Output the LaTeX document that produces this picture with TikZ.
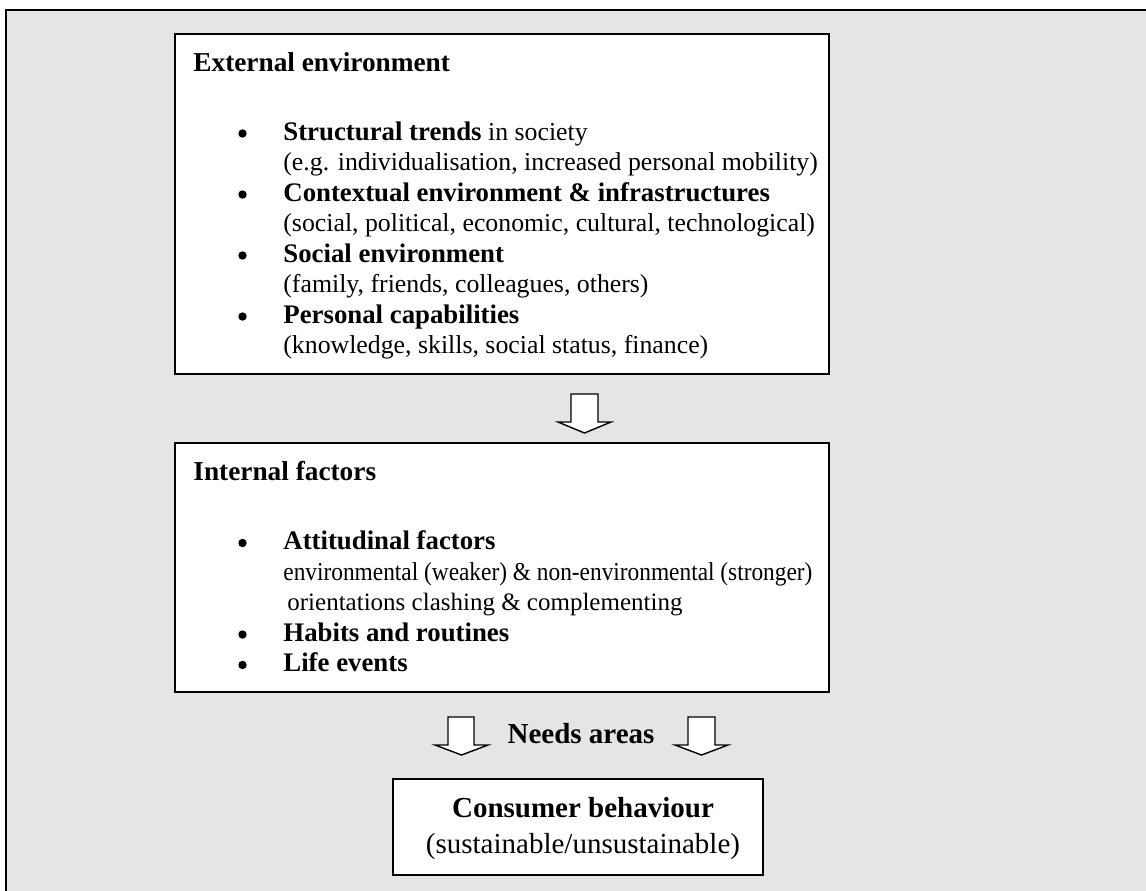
\documentclass[tikz,border=0pt]{standalone}
\usepackage{fontspec}
\setmainfont{Liberation Serif}
\definecolor{bg}{HTML}{E5E5E5}
\newcommand{\hd}[1]{{\fontsize{13.4}{15.25}\selectfont\bfseries #1}}
\begin{document}
\begin{tikzpicture}[x=0.5pt,y=-0.5pt,
  box/.style={draw=black, line width=1pt, fill=white, inner sep=0pt},
  ttl/.style={anchor=base west, inner sep=0pt, font=\fontsize{13.65}{15.25}\selectfont\bfseries},
  txt/.style={anchor=base west, inner sep=0pt, font=\fontsize{12.9}{15.25}\selectfont},
  bul/.style={circle, fill=black, inner sep=0pt, minimum size=4.2pt},
  bigtxt/.style={anchor=base, inner sep=0pt, font=\fontsize{14.5}{17}\selectfont},
  blockarrow/.style={draw=black, line width=0.7pt, fill=white, line join=miter}]
\useasboundingbox (0,0) rectangle (1146,890);
\clip (0,0) rectangle (1146,890);
\draw[line width=1.2pt, fill=bg] (6,10) rectangle (1170,910);
% boxes
\node[box, minimum width=327pt, minimum height=170pt] (ext) at (502,204) {};
\node[box, minimum width=327pt, minimum height=124.5pt] (int) at (502,567.5) {};
\node[box, minimum width=185pt, minimum height=48pt] (cons) at (578,827) {};
% external environment text
\node[ttl] (t1) at (193,71.7) {External environment};
\node[bul] (b1) at (242.5,133.5) {};
\node[txt] (l1) at (283,140) {\hd{Structural trends} in society};
\node[txt] (l2) at (283,170.5) {(e.g. individualisation, increased personal mobility)};
\node[bul] (b2) at (242.5,194.5) {};
\node[txt] (l3) at (283,201) {\hd{Contextual environment \& infrastructures}};
\node[txt] (l4) at (283,231.5) {(social, political, economic, cultural, technological)};
\node[bul] (b3) at (242.5,255.5) {};
\node[txt] (l5) at (283,262) {\hd{Social environment}};
\node[txt] (l6) at (283,292.5) {(family, friends, colleagues, others)};
\node[bul] (b4) at (242.5,316.5) {};
\node[txt] (l7) at (283,323) {\hd{Personal capabilities}};
\node[txt] (l8) at (283,353.5) {(knowledge, skills, social status, finance)};
% internal factors text
\node[ttl] (t2) at (193,480.7) {Internal factors};
\node[bul] (b5) at (242.5,543) {};
\node[txt] (m1) at (283,549.5) {\hd{Attitudinal factors}};
\node[txt] (m2) at (283,580) {\scalebox{0.905}[1]{environmental (weaker) \& non-environmental (stronger)}};
\node[txt, font=\fontsize{12.5}{15.25}\selectfont] (m3) at (287,610.5) {orientations clashing \& complementing};
\node[bul] (b6) at (242.5,634.5) {};
\node[txt] (m4) at (283,641) {\hd{Habits and routines}};
\node[bul] (b7) at (242.5,665) {};
\node[txt] (m5) at (283,671.5) {\hd{Life events}};
% needs areas and consumer behaviour
\node[bigtxt] (needs) at (581,743) {\bfseries Needs areas};
\node[bigtxt] (c1) at (583,817) {\bfseries Consumer behaviour};
\node[bigtxt] (c2) at (583,853) {(sustainable/unsustainable)};
% block arrows
\draw[blockarrow] (571,394) -- (598,394) -- (598,422) -- (611,422) -- (584.5,433) -- (558,422) -- (571,422) -- cycle;
\draw[blockarrow] (448,717) -- (474,717) -- (474,745) -- (488,745) -- (461.5,755) -- (435,745) -- (448,745) -- cycle;
\draw[blockarrow] (688,717) -- (715,717) -- (715,745) -- (728,745) -- (701.5,755) -- (675,745) -- (688,745) -- cycle;
\end{tikzpicture}
\end{document}
